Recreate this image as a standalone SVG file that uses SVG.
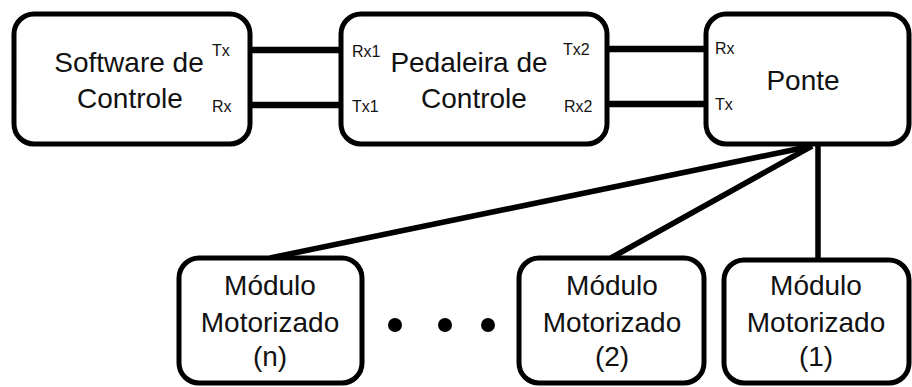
<svg xmlns="http://www.w3.org/2000/svg" width="912" height="387" viewBox="0 0 912 387">
<style>
.box{fill:#fff;stroke:#000;stroke-width:5}
.t{font-family:"Liberation Sans",Arial,sans-serif;font-size:28px;fill:#111;text-anchor:middle}
.s{font-family:"Liberation Sans",Arial,sans-serif;font-size:16px;fill:#111}
.c{stroke:#000;fill:none}
</style>
<rect width="912" height="387" fill="#fff"/>
<g id="connectors">
<line class="c" x1="250" y1="50" x2="341" y2="50" stroke-width="6.5"/>
<line class="c" x1="250" y1="105" x2="341" y2="105" stroke-width="6.5"/>
<line class="c" x1="607" y1="49" x2="706" y2="49" stroke-width="6.5"/>
<line class="c" x1="607" y1="104" x2="706" y2="104" stroke-width="6.5"/>
<line class="c" x1="812" y1="146" x2="270" y2="258" stroke-width="5.5"/>
<line class="c" x1="812" y1="146" x2="611" y2="258" stroke-width="5.5"/>
<line class="c" x1="818" y1="144" x2="818" y2="260" stroke-width="5.5"/>
</g>
<g id="software">
<rect class="box" x="14" y="14" width="236" height="130" rx="20"/>
<text class="t" x="129" y="72">Software de</text>
<text class="t" x="130" y="108">Controle</text>
<text class="s" x="212" y="56">Tx</text>
<text class="s" x="212" y="112">Rx</text>
</g>
<g id="pedaleira">
<rect class="box" x="341" y="14" width="266" height="130" rx="20"/>
<text class="t" x="469" y="72">Pedaleira de</text>
<text class="t" x="474" y="108">Controle</text>
<text class="s" x="352" y="57">Rx1</text>
<text class="s" x="352" y="112">Tx1</text>
<text class="s" x="563" y="55">Tx2</text>
<text class="s" x="564" y="112">Rx2</text>
</g>
<g id="ponte">
<rect class="box" x="706" y="14" width="203" height="130" rx="20"/>
<text class="t" x="803" y="90">Ponte</text>
<text class="s" x="715" y="54">Rx</text>
<text class="s" x="715" y="110">Tx</text>
</g>
<g id="modulo-n">
<rect class="box" x="179" y="258" width="183" height="125" rx="20"/>
<text class="t" x="270" y="295">Módulo</text>
<text class="t" x="270" y="332">Motorizado</text>
<text class="t" x="270" y="366">(n)</text>
</g>
<g id="dots">
<circle cx="395" cy="325" r="7" fill="#000"/>
<circle cx="445" cy="325" r="7" fill="#000"/>
<circle cx="488" cy="325" r="7" fill="#000"/>
</g>
<g id="modulo-2">
<rect class="box" x="519" y="258" width="185" height="125" rx="20"/>
<text class="t" x="612" y="295">Módulo</text>
<text class="t" x="612" y="332">Motorizado</text>
<text class="t" x="612" y="366">(2)</text>
</g>
<g id="modulo-1">
<rect class="box" x="724" y="260" width="185" height="123" rx="20"/>
<text class="t" x="816" y="295">Módulo</text>
<text class="t" x="816" y="332">Motorizado</text>
<text class="t" x="816" y="366">(1)</text>
</g>
</svg>
